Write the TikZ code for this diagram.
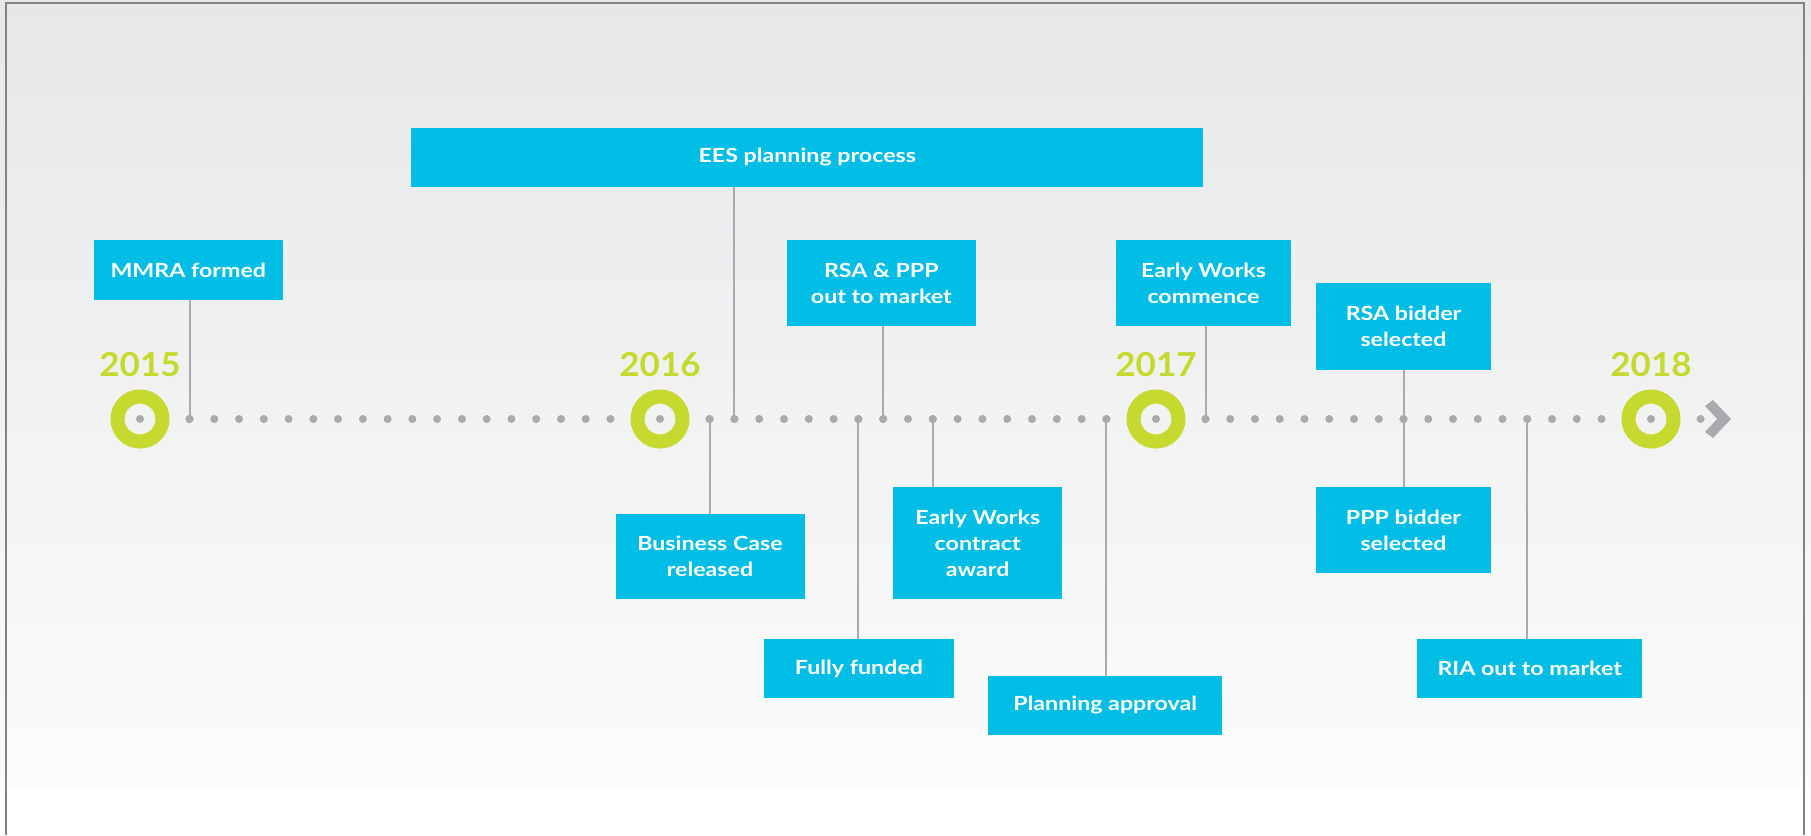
\documentclass[tikz,border=0pt]{standalone}
\usepackage{fontspec}
\setmainfont{Lato}
\newfontfamily\boxfont{Lato}[FakeStretch=1.19]
\newfontfamily\yearfont{Lato}[FakeStretch=1.06]
\definecolor{boxc}{RGB}{0,189,229}
\definecolor{yearc}{RGB}{197,217,46}
\definecolor{dotc}{RGB}{168,170,173}
\definecolor{bgtop}{RGB}{230,231,232}
\definecolor{bgbot}{RGB}{252,252,252}
\definecolor{framec}{RGB}{130,130,130}
\tikzset{
  evbox/.style={fill=boxc, text=white, inner sep=0pt, align=center,
    font=\boxfont\fontsize{19.5}{26}\selectfont\bfseries},
  yearlbl/.style={text=yearc, inner sep=0pt, anchor=base,
    font=\yearfont\fontsize{33}{33}\selectfont\bfseries},
  ring/.style={draw=yearc, line width=14pt},
  tdot/.style={fill=dotc},
  conn/.style={draw=dotc, line width=2pt}
}
\begin{document}
\begin{tikzpicture}[x=1pt,y=-1pt]
\useasboundingbox (0,0) rectangle (1811,835);
% background
\shade[top color=bgtop, bottom color=bgbot] (0,0) rectangle (1811,790);
\fill[white] (0,790) rectangle (1811,835);
\draw[framec, line width=2pt] (6,835) -- (6,2.5) -- (1804,2.5) -- (1804,835);

% dotted timeline
\foreach \k in {0,2,3,...,19,21} \fill[tdot] ({140+\k*24.762},419) circle (4);
\foreach \k in {2,3,...,18,20} \fill[tdot] ({660+\k*24.8},419) circle (4);
\foreach \k in {2,3,...,18,20} \fill[tdot] ({1156+\k*24.75},419) circle (4);
\fill[tdot] (1700.6,419) circle (4);
\fill[dotc] (1705,406) -- (1713,400) -- (1731,419) -- (1713,438) -- (1705,432) -- (1717,419) -- cycle;

% year rings
\node[circle, ring, minimum size=45pt, inner sep=0pt] (y15) at (140,419) {};
\node[circle, ring, minimum size=45pt, inner sep=0pt] (y16) at (660,419) {};
\node[circle, ring, minimum size=45pt, inner sep=0pt] (y17) at (1156,419) {};
\node[circle, ring, minimum size=45pt, inner sep=0pt] (y18) at (1651,419) {};
\node[yearlbl] (l15) at (140,376) {2015};
\node[yearlbl] (l16) at (660,376) {2016};
\node[yearlbl] (l17) at (1156,376) {2017};
\node[yearlbl] (l18) at (1651,376) {2018};

% connector anchor points on the timeline
\coordinate (cmmra) at ({140+2*24.762},419);
\coordinate (cees) at ({660+3*24.8},419);
\coordinate (cbc) at ({660+2*24.8},419);
\coordinate (cff) at ({660+8*24.8},419);
\coordinate (crsa) at ({660+9*24.8},419);
\coordinate (cewc) at ({660+11*24.8},419);
\coordinate (cpa) at ({660+18*24.8},419);
\coordinate (cewcom) at ({1156+2*24.75},419);
\coordinate (cbid) at ({1156+10*24.75},419);
\coordinate (cria) at ({1156+15*24.75},419);

% event boxes
\node[evbox, minimum width=189.5pt, minimum height=60pt] (mmra) at (188.3,270) {MMRA formed};
\node[evbox, minimum width=792.3pt, minimum height=59pt] (ees) at (807.3,157.5) {EES planning process};
\node[evbox, minimum width=189.4pt, minimum height=86pt] (rsappp) at (881.3,283) {RSA \& PPP\\out to market};
\node[evbox, minimum width=175.6pt, minimum height=86pt] (ewcom) at (1203.5,283) {Early Works\\commence};
\node[evbox, minimum width=175pt, minimum height=86.5pt] (rsab) at (1403.5,326.3) {RSA bidder\\selected};
\node[evbox, minimum width=175pt, minimum height=86pt] (pppb) at (1403.5,530.2) {PPP bidder\\selected};
\node[evbox, minimum width=189pt, minimum height=85.3pt] (bc) at (710,556.7) {Business Case\\released};
\node[evbox, minimum width=168.7pt, minimum height=112pt] (ewc) at (977.7,543.3) {Early Works\\contract\\award};
\node[evbox, minimum width=189.3pt, minimum height=59pt] (ff) at (859,668.8) {Fully funded};
\node[evbox, minimum width=233.6pt, minimum height=59pt] (pa) at (1105.2,705.5) {Planning approval};
\node[evbox, minimum width=225.4pt, minimum height=59pt] (ria) at (1529.7,668.2) {RIA out to market};

% connectors
\draw[conn] (cmmra |- mmra.south) -- (cmmra);
\draw[conn] (cees |- ees.south) -- (cees);
\draw[conn] (crsa |- rsappp.south) -- (crsa);
\draw[conn] (cewcom |- ewcom.south) -- (cewcom);
\draw[conn] (cbid |- rsab.south) -- (cbid) -- (cbid |- pppb.north);
\draw[conn] (cbc) -- (cbc |- bc.north);
\draw[conn] (cewc) -- (cewc |- ewc.north);
\draw[conn] (cff) -- (cff |- ff.north);
\draw[conn] (cpa) -- (cpa |- pa.north);
\draw[conn] (cria) -- (cria |- ria.north);
\foreach \c in {cmmra,cees,cbc,cff,crsa,cewc,cpa,cewcom,cbid,cria} \fill[tdot] (\c) circle (4);
\end{tikzpicture}
\end{document}
